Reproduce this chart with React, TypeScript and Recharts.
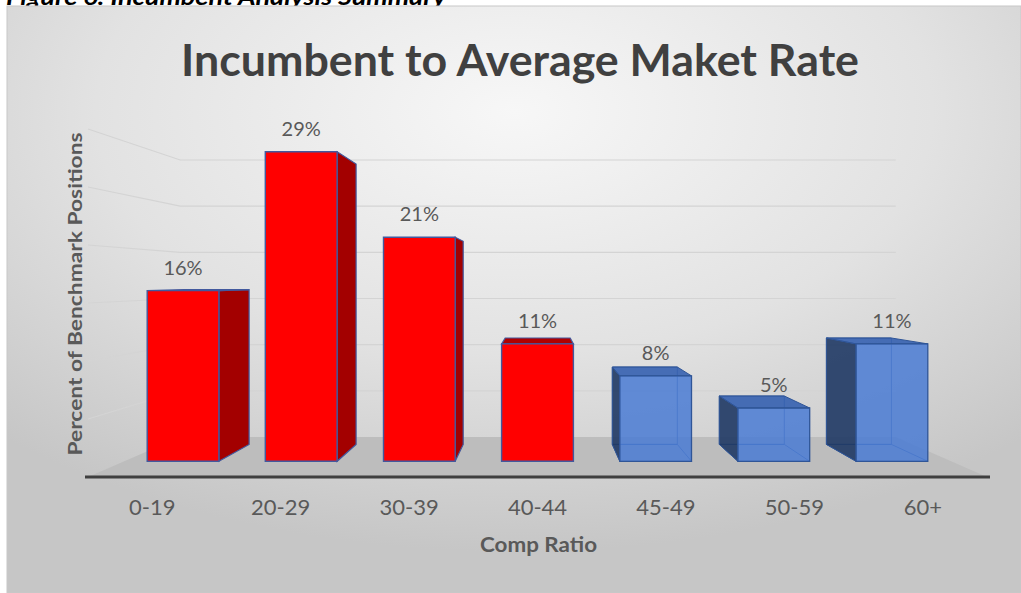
import React from 'react';
import { BarChart, Bar, XAxis, YAxis, CartesianGrid } from 'recharts';

const categories = ['0-19', '20-29', '30-39', '40-44', '45-49', '50-59', '60+'];
const percents = [16, 29, 21, 11, 8, 5, 11];
const yTicks = [0, 5, 10, 15, 20, 25, 30];

const data = categories.map((range, i) => ({ range, value: percents[i] }));

// perspective set-up (Excel style 3D column chart)
const VX = 540;
const VY = 281;
const SF = 0.92; // bar front plane
const SB = 0.92 * 0.906; // bar back plane
const SW = 0.796; // back wall
const RED_COUNT = 4;

const FONT = "Lato, 'Open Sans', sans-serif";

const proj = (x: number, y: number, s: number) => [VX + s * (x - VX), VY + s * (y - VY)];
const pts = (arr: number[][]) => arr.map((p) => `${p[0].toFixed(1)},${p[1].toFixed(1)}`).join(' ');

const Box = (props: any) => {
  const { x, y, width, height, index, value } = props;
  const x0 = x;
  const x1 = x + width;
  const yt = y;
  const yb = y + height;
  const fTL = proj(x0, yt, SF), fTR = proj(x1, yt, SF), fBR = proj(x1, yb, SF), fBL = proj(x0, yb, SF);
  const bTL = proj(x0, yt, SB), bTR = proj(x1, yt, SB), bBR = proj(x1, yb, SB), bBL = proj(x0, yb, SB);
  const red = index < RED_COUNT;
  const leftVis = bTL[0] < fTL[0];
  const rightVis = bTR[0] > fTR[0];
  const topVis = fTL[1] > VY;
  const labelX = (fTL[0] + fTR[0]) / 2;
  const labelY = fTL[1] - 16;

  if (red) {
    const stroke = '#42599e';
    return (
      <g>
        {rightVis && <polygon points={pts([fTR, bTR, bBR, fBR])} fill="#a30000" stroke={stroke} strokeWidth={1.2} />}
        {leftVis && <polygon points={pts([bTL, fTL, fBL, bBL])} fill="#a30000" stroke={stroke} strokeWidth={1.2} />}
        {topVis && <polygon points={pts([fTL, fTR, bTR, bTL])} fill="#b00000" stroke={stroke} strokeWidth={1.2} />}
        <polygon points={pts([fTL, fTR, fBR, fBL])} fill="#ff0000" stroke={stroke} strokeWidth={1.4} />
        <text x={labelX} y={labelY} textAnchor="middle" fontFamily={FONT} fontSize={20} fill="#595959">{`${value}%`}</text>
      </g>
    );
  }
  const stroke = '#2f5597';
  return (
    <g>
      <polygon points={pts([bTL, bTR, bBR, bBL])} fill="none" stroke={stroke} strokeWidth={1} strokeOpacity={0.8} />
      <polygon points={pts([fBL, fBR, bBR, bBL])} fill="none" stroke={stroke} strokeWidth={1} strokeOpacity={0.8} />
      {leftVis && <polygon points={pts([bTL, fTL, fBL, bBL])} fill="#1f3864" fillOpacity={0.9} stroke={stroke} strokeWidth={1} />}
      {rightVis && <polygon points={pts([fTR, bTR, bBR, fBR])} fill="#1f3864" fillOpacity={0.9} stroke={stroke} strokeWidth={1} />}
      {topVis && <polygon points={pts([fTL, fTR, bTR, bTL])} fill="#3560b0" fillOpacity={0.9} stroke={stroke} strokeWidth={1} />}
      <polygon points={pts([fTL, fTR, fBR, fBL])} fill="#4a7bd3" fillOpacity={0.85} stroke={stroke} strokeWidth={1.3} />
      <text x={labelX} y={labelY} textAnchor="middle" fontFamily={FONT} fontSize={20} fill="#595959">{`${value}%`}</text>
    </g>
  );
};

// horizontal grid lines: bent onto the left side wall and the back wall; the bottom one is the floor
const GridLine = (props: any) => {
  const { x1, x2, y1, y, height, index } = props;
  const wl = proj(x1, y1, SW);
  const wr = proj(x2, y1, SW);
  if (Math.abs(y1 - (y + height)) < 1) {
    return (
      <g key={`floor-${index}`}>
        <polygon points={pts([[x1, y1], [x2, y1], wr, wl])} fill="#bdbdbd" />
        <line x1={x1 - 3} x2={x2 + 3} y1={y1} y2={y1} stroke="#3f3f3f" strokeWidth={3} />
      </g>
    );
  }
  return (
    <path
      key={`grid-${index}`}
      d={`M${x1},${y1}L${wl[0]},${wl[1]}L${wr[0]},${wr[1]}`}
      fill="none"
      stroke="#d4d4d4"
      strokeWidth={1.2}
    />
  );
};

const Tick = (props: any) => {
  const { x, payload } = props;
  return (
    <text x={x} y={515} textAnchor="middle" fontFamily={FONT} fontSize={22} fill="#595959">
      {payload.value}
    </text>
  );
};

export default function App() {
  return (
    <div style={{ position: 'absolute', left: 0, top: 0, width: 1021, height: 593 }}>
      <svg width={1021} height={593} style={{ position: 'absolute', left: 0, top: 0 }}>
        <defs>
          <radialGradient id="bg" cx="50%" cy="18%" r="75%" fx="50%" fy="18%">
            <stop offset="0%" stopColor="#f7f7f7" />
            <stop offset="55%" stopColor="#e2e2e2" />
            <stop offset="100%" stopColor="#c6c6c6" />
          </radialGradient>
        </defs>
        <rect x={0} y={0} width={1021} height={593} fill="#ffffff" />
        <text x={6} y={5} fontFamily={FONT} fontSize={22} fontWeight="bold" fontStyle="italic" fill="#000"
          textLength={440} lengthAdjust="spacingAndGlyphs">
          Figure 6: Incumbent Analysis Summary
        </text>
        <rect x={7} y={6} width={1014} height={587} fill="url(#bg)" stroke="#c8c8c8" strokeWidth={1} />
        <text x={181} y={76} fontFamily={FONT} fontSize={44} fontWeight="bold" fill="#404040"
          textLength={678} lengthAdjust="spacingAndGlyphs">
          Incumbent to Average Maket Rate
        </text>
        <text x={480} y={552} fontFamily={FONT} fontSize={20} fontWeight="bold" fill="#595959"
          textLength={117} lengthAdjust="spacingAndGlyphs">
          Comp Ratio
        </text>
        <text transform="translate(82,294) rotate(-90)" x={0} y={0} textAnchor="middle" fontFamily={FONT}
          fontSize={19} fontWeight="bold" fill="#595959" textLength={323} lengthAdjust="spacingAndGlyphs">
          Percent of Benchmark Positions
        </text>
      </svg>
      <div style={{ position: 'absolute', left: 0, top: 0 }}>
        <BarChart width={1021} height={593} data={data} margin={{ top: 129, right: 34, left: 88, bottom: 56 }}>
          <CartesianGrid vertical={false} horizontal={GridLine} />
          <XAxis dataKey="range" axisLine={false} tickLine={false} interval={0} height={60} tick={<Tick />} />
          <YAxis hide domain={[0, 30]} ticks={yTicks} type="number" />
          <Bar dataKey="value" barSize={78} shape={<Box />} isAnimationActive={false} />
        </BarChart>
      </div>
    </div>
  );
}
